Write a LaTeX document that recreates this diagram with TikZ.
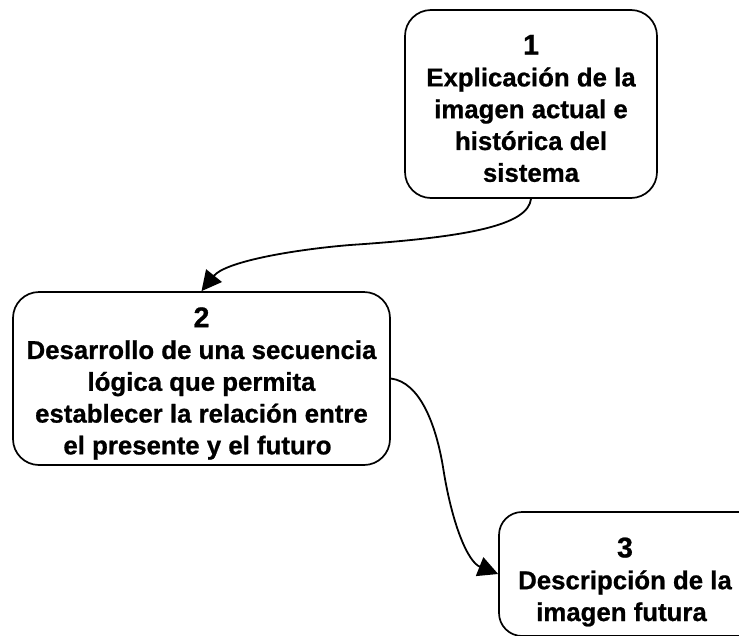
\documentclass[tikz,border=0pt]{standalone}
\usepackage{fontspec}
\setmainfont[BoldFeatures={FakeBold=0.8}]{Liberation Sans}
\usetikzlibrary{arrows.meta}
\newcommand{\boxtext}[3]{\raisebox{#1}[0pt][0pt]{\parbox{#2}{\centering\fontsize{25.8}{31.8}\selectfont\bfseries #3}}}
\newcommand{\numeral}[1]{{\fontsize{28.5}{31.8}\selectfont #1}}
\tikzset{
 boxn/.style={draw=black,line width=1.7pt,rounded corners=26pt,fill=white,inner sep=0pt,align=center,text=black},
 conn/.style={draw=black,line width=1.8pt,-{Triangle[length=20pt,width=20pt]}}
}
\begin{document}
\begin{tikzpicture}[x=1pt,y=-1pt]
\useasboundingbox (0,0) rectangle (739,635);
\clip (0,0) rectangle (739,635);
\node[boxn,minimum width=252pt,minimum height=188pt] (a) at (531,104) {\boxtext{-7pt}{248pt}{\numeral{1}\\Explicación de la\\imagen actual e\\histórica del\\sistema}};
\node[boxn,minimum width=377pt,minimum height=173pt] (b) at (201.5,378.5) {\boxtext{-7.5pt}{373pt}{\numeral{2}\\Desarrollo de una secuencia\\lógica que permita\\establecer la relación entre\\\hspace*{-8pt}el presente y el futuro}};
\node[boxn,rounded corners=23pt,minimum width=262pt,minimum height=124pt] (c) at (630,574) {\hspace*{-10pt}\boxtext{-10.5pt}{250pt}{\numeral{3}\\Descripción de la\\\hspace*{-7pt}imagen futura}};
\draw[conn] (a.south) .. controls (528,225) and (470,237) .. (350,245) .. controls (290,250) and (225,262) .. (b.north);
\draw[conn] (b.east) .. controls (420,382) and (436,425) .. (443,467) .. controls (452,525) and (468,562) .. (c.west);
\end{tikzpicture}
\end{document}
